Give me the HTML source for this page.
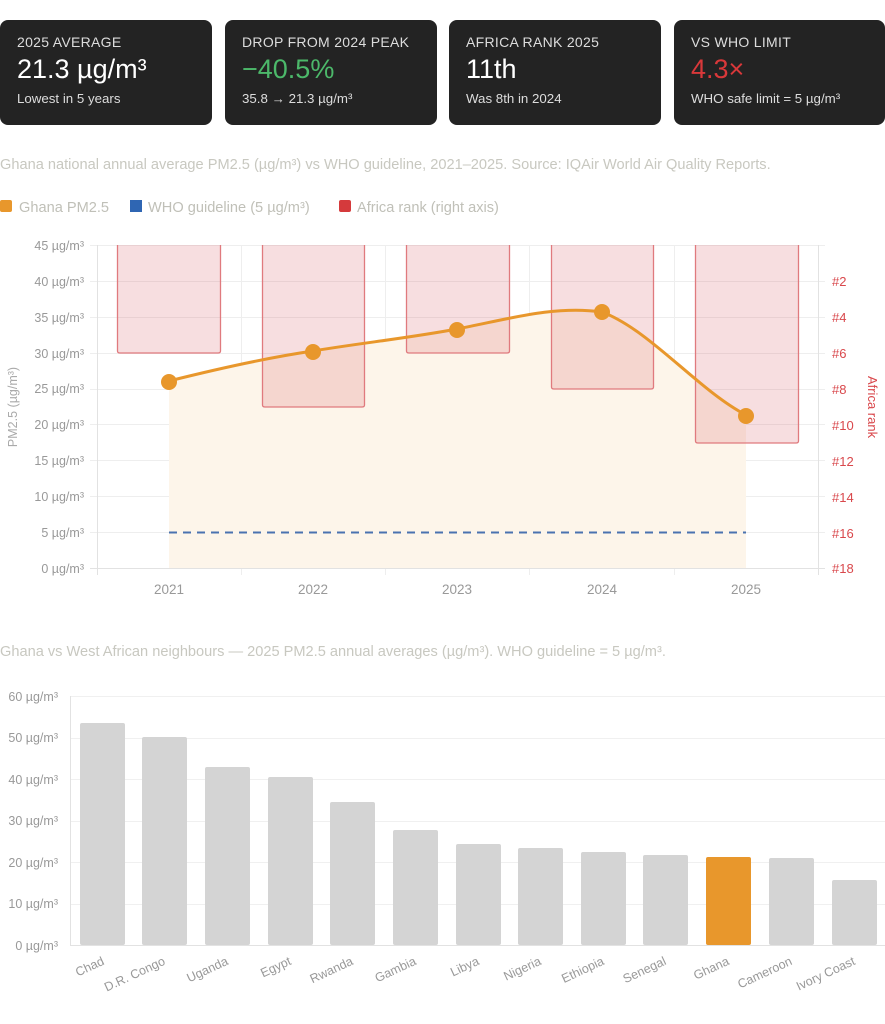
<!DOCTYPE html>
<html><head><meta charset="utf-8"><style>
body{margin:0;width:885px;height:1024px;background:#fff;font-family:"Liberation Sans",sans-serif;overflow:hidden;position:relative}
.card{position:absolute;top:20px;width:212px;height:105px;background:#232323;border-radius:8px;color:#fff;box-sizing:border-box;padding:14px 17px}
.card .l{font-size:14px;color:#ddd;letter-spacing:.3px}
.card .v{font-size:27px;margin-top:4px}
.card .s{font-size:13.3px;color:#ddd;margin-top:6px}
.t{position:absolute;left:0;font-size:14.6px;color:#c8c8c0}
svg{position:absolute;left:0;top:0}
</style></head><body>
<div class="card" style="left:0"><div class="l">2025 AVERAGE</div><div class="v">21.3 µg/m³</div><div class="s">Lowest in 5 years</div></div>
<div class="card" style="left:225px"><div class="l">DROP FROM 2024 PEAK</div><div class="v" style="color:#4cb86a">−40.5%</div><div class="s">35.8 → 21.3 µg/m³</div></div>
<div class="card" style="left:449px"><div class="l">AFRICA RANK 2025</div><div class="v">11th</div><div class="s">Was 8th in 2024</div></div>
<div class="card" style="left:674px;width:211px"><div class="l">VS WHO LIMIT</div><div class="v" style="color:#d9383a">4.3×</div><div class="s">WHO safe limit = 5 µg/m³</div></div>
<div class="t" style="top:157px">Ghana national annual average PM2.5 (µg/m³) vs WHO guideline, 2021–2025. Source: IQAir World Air Quality Reports.</div>
<div class="t" style="top:644px">Ghana vs West African neighbours — 2025 PM2.5 annual averages (µg/m³). WHO guideline = 5 µg/m³.</div>
<svg width="885" height="1024" font-family="Liberation Sans, sans-serif">
<rect x="0" y="200" width="12" height="12" rx="2" fill="#e8972c"/><text x="19" y="212" font-size="14.6" fill="#c0c0b8">Ghana PM2.5</text>
<rect x="130" y="200" width="12" height="12" fill="#2f66b3"/><text x="148" y="212" font-size="14.6" fill="#c0c0b8">WHO guideline (5 µg/m³)</text>
<rect x="339" y="200" width="12" height="12" rx="2" fill="#d53a3c"/><text x="357" y="212" font-size="14.6" fill="#c0c0b8">Africa rank (right axis)</text>
<g stroke="#eeeeee" stroke-width="1">
<line x1="90" y1="245.5" x2="825" y2="245.5"/><line x1="90" y1="281.5" x2="825" y2="281.5"/><line x1="90" y1="317.5" x2="825" y2="317.5"/><line x1="90" y1="353.5" x2="825" y2="353.5"/><line x1="90" y1="389.5" x2="825" y2="389.5"/><line x1="90" y1="424.5" x2="825" y2="424.5"/><line x1="90" y1="460.5" x2="825" y2="460.5"/><line x1="90" y1="496.5" x2="825" y2="496.5"/><line x1="90" y1="532.5" x2="825" y2="532.5"/>
<line x1="241.5" y1="245" x2="241.5" y2="575"/><line x1="385.5" y1="245" x2="385.5" y2="575"/><line x1="529.5" y1="245" x2="529.5" y2="575"/><line x1="674.5" y1="245" x2="674.5" y2="575"/>
</g>
<line x1="97.5" y1="245" x2="97.5" y2="575" stroke="#e2e2e2"/><line x1="818.5" y1="245" x2="818.5" y2="575" stroke="#e2e2e2"/>
<line x1="90" y1="568.5" x2="825" y2="568.5" stroke="#e2e2e2"/>
<path d="M169,381 C217,369 265,358 313,351 C361,343 409,338 457,329 C505,320 553,305 602,312 C650,330 698,390 746,415 L746,568 L169,568 Z" fill="#fdf5ea"/>
<g fill="rgba(214,90,100,0.2)" stroke="#e07a7e" stroke-width="1.3">
<path d="M117.5,245 V351 Q117.5,353 120,353 H218 Q220.5,353 220.5,351 V245"/>
<path d="M262.5,245 V405 Q262.5,407 265,407 H362 Q364.5,407 364.5,405 V245"/>
<path d="M406.5,245 V351 Q406.5,353 409,353 H507 Q509.5,353 509.5,351 V245"/>
<path d="M551.5,245 V387 Q551.5,389 554,389 H651 Q653.5,389 653.5,387 V245"/>
<path d="M695.5,245 V441 Q695.5,443 698,443 H796 Q798.5,443 798.5,441 V245"/>
</g>
<line x1="169" y1="532.5" x2="746" y2="532.5" stroke="#4a72b0" stroke-width="2" stroke-dasharray="8,6"/>
<path d="M169,381 C217,369 265,358 313,351 C361,343 409,338 457,329 C505,320 553,305 602,312 C650,330 698,390 746,415" fill="none" stroke="#e8972c" stroke-width="3"/>
<g fill="#e8972c"><circle cx="169" cy="382" r="8"/><circle cx="313" cy="352" r="8"/><circle cx="457" cy="330" r="8"/><circle cx="602" cy="312" r="8"/><circle cx="746" cy="416" r="8"/></g>
<g font-size="12.5" fill="#999" text-anchor="end">
<text x="84" y="250">45 µg/m³</text><text x="84" y="286">40 µg/m³</text><text x="84" y="322">35 µg/m³</text><text x="84" y="358">30 µg/m³</text><text x="84" y="393">25 µg/m³</text><text x="84" y="429">20 µg/m³</text><text x="84" y="465">15 µg/m³</text><text x="84" y="501">10 µg/m³</text><text x="84" y="537">5 µg/m³</text><text x="84" y="573">0 µg/m³</text>
</g>
<text transform="translate(17,407) rotate(-90)" font-size="12.5" fill="#aaa" text-anchor="middle">PM2.5 (µg/m³)</text>
<g font-size="13.5" fill="#999" text-anchor="middle"><text x="169" y="594">2021</text><text x="313" y="594">2022</text><text x="457" y="594">2023</text><text x="602" y="594">2024</text><text x="746" y="594">2025</text></g>
<g font-size="13" fill="#d9484c"><text x="832" y="286">#2</text><text x="832" y="322">#4</text><text x="832" y="358">#6</text><text x="832" y="394">#8</text><text x="832" y="430">#10</text><text x="832" y="466">#12</text><text x="832" y="502">#14</text><text x="832" y="538">#16</text><text x="832" y="573">#18</text></g>
<text transform="translate(868,407) rotate(90)" font-size="13" fill="#d9484c" text-anchor="middle">Africa rank</text>
<g stroke="#f0f0f0"><line x1="70" y1="696.5" x2="885" y2="696.5"/><line x1="70" y1="738.5" x2="885" y2="738.5"/><line x1="70" y1="779.5" x2="885" y2="779.5"/><line x1="70" y1="821.5" x2="885" y2="821.5"/><line x1="70" y1="862.5" x2="885" y2="862.5"/><line x1="70" y1="904.5" x2="885" y2="904.5"/></g>
<line x1="70.5" y1="696" x2="70.5" y2="946" stroke="#e2e2e2"/><line x1="70" y1="945.5" x2="885" y2="945.5" stroke="#e2e2e2"/>
<g font-size="12.5" fill="#999" text-anchor="end"><text x="58" y="701">60 µg/m³</text><text x="58" y="742">50 µg/m³</text><text x="58" y="784">40 µg/m³</text><text x="58" y="825">30 µg/m³</text><text x="58" y="867">20 µg/m³</text><text x="58" y="908">10 µg/m³</text><text x="58" y="950">0 µg/m³</text></g>
<g fill="#d4d4d4">
<rect x="80" y="723" width="45" height="222" rx="2"/><rect x="142" y="737" width="45" height="208" rx="2"/><rect x="205" y="767" width="45" height="178" rx="2"/><rect x="268" y="777" width="45" height="168" rx="2"/><rect x="330" y="802" width="45" height="143" rx="2"/><rect x="393" y="830" width="45" height="115" rx="2"/><rect x="456" y="844" width="45" height="101" rx="2"/><rect x="518" y="848" width="45" height="97" rx="2"/><rect x="581" y="852" width="45" height="93" rx="2"/><rect x="643" y="855" width="45" height="90" rx="2"/><rect x="769" y="858" width="45" height="87" rx="2"/><rect x="832" y="880" width="45" height="65" rx="2"/>
</g>
<rect x="706" y="857" width="45" height="88" rx="2" fill="#e8972c"/>
<g font-size="12.5" fill="#999" text-anchor="end">
<text transform="translate(105,964) rotate(-25)">Chad</text><text transform="translate(166,964) rotate(-25)">D.R. Congo</text><text transform="translate(229,964) rotate(-25)">Uganda</text><text transform="translate(292,964) rotate(-25)">Egypt</text><text transform="translate(354,964) rotate(-25)">Rwanda</text><text transform="translate(417,964) rotate(-25)">Gambia</text><text transform="translate(480,964) rotate(-25)">Libya</text><text transform="translate(542,964) rotate(-25)">Nigeria</text><text transform="translate(605,964) rotate(-25)">Ethiopia</text><text transform="translate(667,964) rotate(-25)">Senegal</text><text transform="translate(730,964) rotate(-25)">Ghana</text><text transform="translate(793,964) rotate(-25)">Cameroon</text><text transform="translate(856,964) rotate(-25)">Ivory Coast</text>
</g>
</svg>
</body></html>
